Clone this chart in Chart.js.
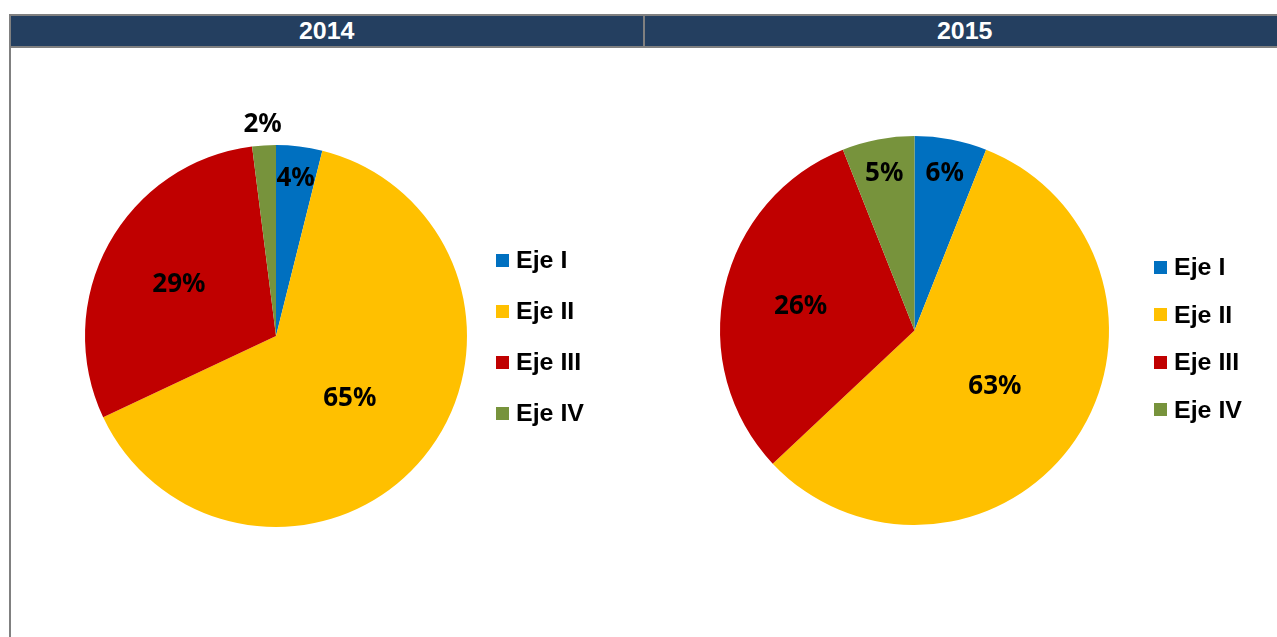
<!DOCTYPE html>
<html>
<head>
<meta charset="utf-8">
<script src="https://cdn.jsdelivr.net/npm/chart.js@4.4.1/dist/chart.umd.min.js"></script>
<style>
  html, body { margin: 0; padding: 0; background: #fff; }
  body { width: 1277px; height: 637px; position: relative; overflow: hidden; font-family: "Liberation Sans", Arial, sans-serif; }
  .frame { position: absolute; left: 9px; top: 14px; width: 1300px; height: 700px; border-left: 2px solid #808080; }
  .header { position: absolute; left: 9px; top: 14px; width: 1300px; height: 34px; background: #808080; }
  .cell { position: absolute; top: 2px; height: 30px; background: #243F60; color: #fff; font-weight: bold; font-size: 24px; line-height: 30px; text-align: center; }
  .cell span { display: inline-block; transform: scaleX(1.04); }
  canvas { position: absolute; top: 0; }
  .legend { position: absolute; }
  .legend .item { display: flex; align-items: center; font-weight: bold; font-size: 24px; color: #000; }
  .legend .box { width: 13px; height: 13px; margin-right: 7px; }
  .legend .txt { display: inline-block; transform: scaleX(1.04); transform-origin: left center; }
</style>
</head>
<body>
<div class="frame"></div>
<div class="header">
  <div class="cell" id="h1" style="left:2px;width:632px;"></div>
  <div class="cell" id="h2" style="left:636px;width:640px;"></div>
</div>
<canvas id="pie2014" width="640" height="637" style="left:0px;"></canvas>
<canvas id="pie2015" width="632" height="637" style="left:645px;"></canvas>
<div class="legend" id="leg2014"></div>
<div class="legend" id="leg2015"></div>
<script>
// datos
const years = ['2014', '2015'];
const categories = ['Eje I', 'Eje II', 'Eje III', 'Eje IV'];
const values2014 = [3.9, 64.1, 30.0, 2.0];
const values2015 = [6.0, 57.0, 31.0, 6.0];
const labels2014 = ['4%', '65%', '29%', '2%'];
const labels2015 = ['6%', '63%', '26%', '5%'];
const colors = ['#0070C0', '#FFC000', '#C00000', '#77933C'];

document.getElementById('h1').innerHTML = '<span>' + years[0] + '</span>';
document.getElementById('h2').innerHTML = '<span>' + years[1] + '</span>';

// etiquetas de porcentaje sobre cada sector
const pctLabels = {
  id: 'pctLabels',
  afterDatasetsDraw(chart, args, opts) {
    const ctx = chart.ctx;
    const meta = chart.getDatasetMeta(0);
    ctx.save();
    ctx.font = 'bold 26px "Noto Sans"';
    ctx.fillStyle = '#000';
    ctx.textAlign = 'center';
    ctx.textBaseline = 'alphabetic';
    meta.data.forEach(function (arc, i) {
      const p = arc.getProps(['x', 'y', 'startAngle', 'endAngle', 'outerRadius'], true);
      const mid = (p.startAngle + p.endAngle) / 2;
      const r = p.outerRadius * opts.dist[i];
      ctx.fillText(opts.text[i], p.x + Math.cos(mid) * r, p.y + Math.sin(mid) * r + 9);
    });
    ctx.restore();
  }
};

function makePie(id, values, texts, dist, padding) {
  return new Chart(document.getElementById(id).getContext('2d'), {
    type: 'pie',
    data: {
      labels: categories,
      datasets: [{
        data: values,
        backgroundColor: colors,
        borderWidth: 0
      }]
    },
    options: {
      responsive: false,
      animation: false,
      layout: { padding: padding },
      plugins: {
        legend: { display: false },
        tooltip: { enabled: false },
        pctLabels: { text: texts, dist: dist }
      }
    },
    plugins: [pctLabels]
  });
}

makePie('pie2014', values2014, labels2014, [0.84, 0.50, 0.58, 1.12],
  { left: 85, right: 173, top: 145, bottom: 110 });
makePie('pie2015', values2015, labels2015, [0.83, 0.50, 0.60, 0.83],
  { left: 75, right: 168, top: 136, bottom: 112 });

// leyendas
function makeLegend(id, left, firstCenter, step) {
  const el = document.getElementById(id);
  el.style.left = left + 'px';
  el.style.top = (firstCenter - step / 2) + 'px';
  categories.forEach(function (c, i) {
    const row = document.createElement('div');
    row.className = 'item';
    row.style.height = step + 'px';
    row.innerHTML = '<div class="box" style="background:' + colors[i] + '"></div><span class="txt">' + c + '</span>';
    el.appendChild(row);
  });
}
makeLegend('leg2014', 496, 260, 51);
makeLegend('leg2015', 1154, 267, 47.5);
</script>
</body>
</html>
